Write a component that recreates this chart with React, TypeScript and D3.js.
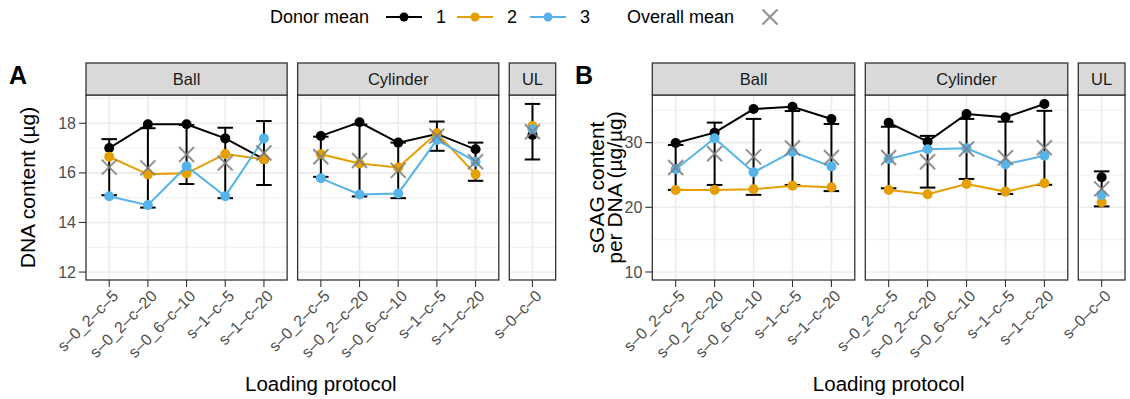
import * as d3 from "d3";

const facets = ["Ball", "Cylinder", "UL"];
const protocolLabels = ["s–0_2–c–5", "s–0_2–c–20", "s–0_6–c–10", "s–1–c–5", "s–1–c–20"];
const ulLabels = ["s–0–c–0"];
const facetLabels = [protocolLabels, protocolLabels, ulLabels];
const donors = ["1", "2", "3"];
const donorColors = ["#000000", "#E69F00", "#56B4E9"];

// DNA content (µg): Ball x5, Cylinder x5, UL x1
const dnaDonor1 = [17.0, 17.96, 17.96, 17.39, 16.55, 17.49, 18.04, 17.22, 17.57, 16.95, 17.53];
const dnaDonor2 = [16.65, 15.94, 15.98, 16.76, 16.55, 16.75, 16.38, 16.22, 17.6, 15.94, 17.89];
const dnaDonor3 = [15.06, 14.7, 16.27, 15.06, 17.39, 15.78, 15.13, 15.17, 17.33, 16.45, 17.76];
const dnaMean = [16.23, 16.2, 16.74, 16.4, 16.8, 16.65, 16.5, 16.1, 17.48, 16.45, 17.66];
const dnaSd = [1.13, 1.6, 1.19, 1.42, 1.29, 0.81, 1.45, 1.12, 0.59, 0.77, 1.12];

// sGAG per DNA (µg/µg)
const gagDonor1 = [29.95, 31.55, 35.2, 35.56, 33.66, 33.09, 30.15, 34.44, 33.92, 35.98, 24.65];
const gagDonor2 = [22.69, 22.69, 22.8, 23.35, 23.1, 22.69, 22.02, 23.62, 22.43, 23.72, 20.79];
const gagDonor3 = [25.9, 30.68, 25.42, 28.6, 26.3, 27.48, 28.98, 29.13, 26.66, 27.99, 21.92];
const gagMean = [26.17, 28.28, 27.8, 29.17, 27.7, 27.7, 27.05, 29.03, 27.66, 29.2, 22.85];
const gagSd = [3.47, 4.82, 5.87, 5.72, 5.19, 4.76, 4.0, 4.64, 5.59, 5.72, 2.71];

const dnaTicks = [12, 14, 16, 18];
const dnaMinor = [13, 15, 17, 19];
const gagTicks = [10, 20, 30];
const gagMinor = [15, 25, 35];

const font = "'Liberation Sans', Arial, Helvetica, sans-serif";
const top = 95;
const bottom = 280;
const stripTop = 63;
const gap = 10.5;

const Cross = ({ x, y, r = 7.5 }) => (
    <g stroke="#7f7f7f" strokeWidth={2} opacity={0.85}>
        <line x1={x - r} y1={y - r} x2={x + r} y2={y + r} />
        <line x1={x - r} y1={y + r} x2={x + r} y2={y - r} />
    </g>
);

const FacetPlot = ({ x0, unit, domain, ticks, minor, series, mean, sd, tag, title }) => {
    const yScale = d3.scaleLinear().domain(domain).range([bottom, top]);
    let cursor = x0;
    let offset = 0;
    const panels = facets.map((f, i) => {
        const labels = facetLabels[i];
        const w = (labels.length + 0.2) * unit;
        const xScale = d3
            .scalePoint()
            .domain(labels.map((_, j) => String(j)))
            .range([cursor, cursor + w])
            .padding(0.6);
        const p = { name: f, labels, xScale, left: cursor, right: cursor + w, offset };
        cursor += w + gap;
        offset += labels.length;
        return p;
    });
    const first = panels[0].left;
    const last = panels[panels.length - 1].right;
    const mid = (first + last) / 2;

    return (
        <g fontFamily={font}>
            <text x={tag.x} y={84} fontSize={25} fontWeight="bold" fill="#000">
                {tag.label}
            </text>
            {title.map((t, i) => (
                <text
                    key={t}
                    transform={`translate(${title.length === 1 ? first - 51 : first - 48 + i * 17.5},${(top + bottom) / 2}) rotate(-90)`}
                    textAnchor="middle"
                    fontSize={21}
                    fill="#000"
                >
                    {t}
                </text>
            ))}
            {ticks.map((t) => (
                <g key={t}>
                    <line x1={first - 7} x2={first} y1={yScale(t)} y2={yScale(t)} stroke="#333" strokeWidth={1.1} />
                    <text x={first - 10} y={yScale(t)} dy="0.35em" textAnchor="end" fontSize={16} fill="#4D4D4D">
                        {t}
                    </text>
                </g>
            ))}
            {panels.map((p) => {
                const sl = (arr) => arr.slice(p.offset, p.offset + p.labels.length);
                const xs = p.labels.map((_, j) => p.xScale(String(j)));
                const cap = unit * 0.2;
                const m = sl(mean);
                const s = sl(sd);
                const line = d3
                    .line<number>()
                    .x((_, j) => xs[j])
                    .y((v) => yScale(v));
                return (
                    <g key={p.name}>
                        <rect x={p.left} y={top} width={p.right - p.left} height={bottom - top} fill="#fff" />
                        {minor.map((t) => (
                            <line key={"mi" + t} x1={p.left} x2={p.right} y1={yScale(t)} y2={yScale(t)} stroke="#EBEBEB" strokeWidth={0.8} />
                        ))}
                        {ticks.map((t) => (
                            <line key={"ma" + t} x1={p.left} x2={p.right} y1={yScale(t)} y2={yScale(t)} stroke="#EBEBEB" strokeWidth={1.6} />
                        ))}
                        {xs.map((x, j) => (
                            <line key={"v" + j} x1={x} x2={x} y1={top} y2={bottom} stroke="#EBEBEB" strokeWidth={1.6} />
                        ))}
                        {m.map((v, j) => (
                            <g key={"e" + j} stroke="#000" strokeWidth={2}>
                                <line x1={xs[j]} x2={xs[j]} y1={yScale(v - s[j])} y2={yScale(v + s[j])} />
                                <line x1={xs[j] - cap} x2={xs[j] + cap} y1={yScale(v - s[j])} y2={yScale(v - s[j])} />
                                <line x1={xs[j] - cap} x2={xs[j] + cap} y1={yScale(v + s[j])} y2={yScale(v + s[j])} />
                            </g>
                        ))}
                        {series.map((arr, k) => (
                            <g key={"s" + k}>
                                <path d={line(sl(arr))} fill="none" stroke={donorColors[k]} strokeWidth={2} />
                                {sl(arr).map((v, j) => (
                                    <circle key={j} cx={xs[j]} cy={yScale(v)} r={5} fill={donorColors[k]} />
                                ))}
                            </g>
                        ))}
                        {m.map((v, j) => (
                            <Cross key={"x" + j} x={xs[j]} y={yScale(v)} />
                        ))}
                        <rect x={p.left} y={top} width={p.right - p.left} height={bottom - top} fill="none" stroke="#333" strokeWidth={1.3} />
                        <rect x={p.left} y={stripTop} width={p.right - p.left} height={top - stripTop} fill="#D9D9D9" stroke="#333" strokeWidth={1.3} />
                        <text x={(p.left + p.right) / 2} y={(stripTop + top) / 2} dy="0.35em" textAnchor="middle" fontSize={16.5} fill="#1A1A1A">
                            {p.name}
                        </text>
                        {xs.map((x, j) => (
                            <g key={"t" + j}>
                                <line x1={x} x2={x} y1={bottom} y2={bottom + 7} stroke="#333" strokeWidth={1.1} />
                                <text
                                    transform={`translate(${x + 2},${bottom + 9}) rotate(-45)`}
                                    textAnchor="end"
                                    dy="0.71em"
                                    fontSize={16}
                                    fill="#4D4D4D"
                                >
                                    {p.labels[j]}
                                </text>
                            </g>
                        ))}
                    </g>
                );
            })}
            <text x={mid} y={391} textAnchor="middle" fontSize={20.5} fill="#000">
                Loading protocol
            </text>
        </g>
    );
};

const Legend = () => {
    const itemX = [386, 457, 530];
    return (
        <g fontFamily={font} fontSize={18} fill="#000">
            <text x={270} y={17} dy="0.35em">Donor mean</text>
            {donors.map((d, i) => (
                <g key={d}>
                    <line x1={itemX[i]} x2={itemX[i] + 36} y1={17} y2={17} stroke={donorColors[i]} strokeWidth={2} />
                    <circle cx={itemX[i] + 18} cy={17} r={4.5} fill={donorColors[i]} />
                    <text x={itemX[i] + 50} y={17} dy="0.35em">{d}</text>
                </g>
            ))}
            <text x={627} y={17} dy="0.35em">Overall mean</text>
            <Cross x={770} y={17} />
        </g>
    );
};

export default function App() {
    return (
        <svg width={1130} height={399} style={{ position: "absolute", left: 0, top: 0, background: "#fff" }}>
            <rect width={1130} height={399} fill="#fff" />
            <Legend />
            <FacetPlot
                x0={86}
                unit={38.68}
                domain={[11.68, 19.14]}
                ticks={dnaTicks}
                minor={dnaMinor}
                series={[dnaDonor1, dnaDonor2, dnaDonor3]}
                mean={dnaMean}
                sd={dnaSd}
                tag={{ label: "A", x: 9 }}
                title={["DNA content (µg)"]}
            />
            <FacetPlot
                x0={652.3}
                unit={38.94}
                domain={[8.76, 37.37]}
                ticks={gagTicks}
                minor={gagMinor}
                series={[gagDonor1, gagDonor2, gagDonor3]}
                mean={gagMean}
                sd={gagSd}
                tag={{ label: "B", x: 575 }}
                title={["sGAG content", "per DNA (µg/µg)"]}
            />
        </svg>
    );
}
